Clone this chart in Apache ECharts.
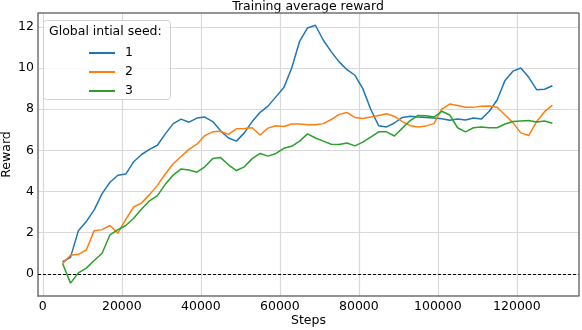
<!DOCTYPE html>
<html>
<head>
<meta charset="utf-8">
<script src="https://cdn.jsdelivr.net/npm/echarts@6/dist/echarts.min.js"></script>
<style>
  html, body { margin: 0; padding: 0; background: #fff; }
  #chart { width: 582px; height: 330px; }
</style>
</head>
<body>
<div id="chart"></div>
<script>
  // training steps (x) and average reward per seed
  var steps = [5000, 7000, 9000, 11000, 13000, 15000, 17000, 19000, 21000, 23000,
    25000, 27000, 29000, 31000, 33000, 35000, 37000, 39000, 41000, 43000,
    45000, 47000, 49000, 51000, 53000, 55000, 57000, 59000, 61000, 63000,
    65000, 67000, 69000, 71000, 73000, 75000, 77000, 79000, 81000, 83000,
    85000, 87000, 89000, 91000, 93000, 95000, 97000, 99000, 101000, 103000,
    105000, 107000, 109000, 111000, 113000, 115000, 117000, 119000, 121000, 123000,
    125000, 127000, 129000]

  var seed1 = [0.59, 0.8, 2.1, 2.54, 3.11, 3.9, 4.45, 4.79, 4.85, 5.45,
    5.8, 6.05, 6.25, 6.8, 7.3, 7.52, 7.37, 7.57, 7.62, 7.4,
    6.95, 6.6, 6.45, 6.85, 7.4, 7.85, 8.15, 8.6, 9.05, 10.0,
    11.3, 11.95, 12.08, 11.35, 10.8, 10.3, 9.92, 9.65, 9.0, 8.0,
    7.2, 7.14, 7.33, 7.6, 7.66, 7.62, 7.6, 7.57, 7.54, 7.46,
    7.52, 7.48, 7.57, 7.52, 7.9, 8.45, 9.4, 9.85, 10.0, 9.55,
    8.95, 8.97, 9.14]

  var seed2 = [0.5, 0.9, 0.95, 1.16, 2.1, 2.15, 2.35, 1.98, 2.65, 3.25,
    3.45, 3.85, 4.3, 4.85, 5.35, 5.7, 6.05, 6.3, 6.72, 6.9,
    6.93, 6.78, 7.05, 7.06, 7.1, 6.75, 7.08, 7.2, 7.16, 7.28,
    7.28, 7.25, 7.25, 7.3, 7.5, 7.75, 7.84, 7.6, 7.55, 7.62,
    7.7, 7.78, 7.65, 7.4, 7.2, 7.14, 7.19, 7.3, 8.0, 8.25,
    8.18, 8.1, 8.09, 8.15, 8.16, 8.1, 7.72, 7.35, 6.85, 6.72,
    7.4, 7.88, 8.2]

  var seed3 = [0.5, -0.45, 0.05, 0.28, 0.65, 1.0, 1.9, 2.15, 2.35, 2.7,
    3.15, 3.55, 3.8, 4.35, 4.8, 5.1, 5.05, 4.94, 5.2, 5.6,
    5.65, 5.3, 5.02, 5.2, 5.6, 5.85, 5.72, 5.85, 6.1, 6.2,
    6.45, 6.8, 6.6, 6.45, 6.3, 6.29, 6.36, 6.22, 6.4, 6.65,
    6.9, 6.9, 6.7, 7.08, 7.45, 7.7, 7.68, 7.62, 7.9, 7.72,
    7.1, 6.9, 7.1, 7.14, 7.1, 7.1, 7.28, 7.4, 7.43, 7.45,
    7.38, 7.43, 7.32]

  var seedNames = ['1', '2', '3']
  var xTicks = [0, 20000, 40000, 60000, 80000, 100000, 120000]
  var yTicks = [0, 2, 4, 6, 8, 10, 12]

  function pairs(vals) {
    return steps.map(function (s, i) { return [s, vals[i]] })
  }

  var font = 'DejaVu Sans'
  var frame = '#707070'
  var chart = echarts.init(document.getElementById('chart'))

  var option = {
    animation: false,
    color: ['#1f77b4', '#ff7f0e', '#2ca02c'],
    title: {
      text: 'Training average reward',
      left: 308, top: 0, padding: 0,
      textAlign: 'center',
      textStyle: { fontFamily: font, fontSize: 12.5, fontWeight: 'normal', color: '#000' }
    },
    grid: { left: 38, right: 3, top: 13, bottom: 34, outerBoundsMode: 'none' },
    legend: {
      z: 60,
      orient: 'vertical',
      left: 84, top: 41,
      itemWidth: 26, itemHeight: 2,
      itemGap: 5,
      icon: 'rect',
      data: seedNames,
      textStyle: { fontFamily: font, fontSize: 12.5, color: '#000', lineHeight: 14, padding: [0, 0, 0, 5] }
    },
    graphic: [
      {
        type: 'rect', z: 50,
        shape: { x: 43.5, y: 20.5, width: 127, height: 79, r: 3 },
        style: { fill: 'rgba(255,255,255,0.85)', stroke: '#d0d0d0', lineWidth: 1 }
      },
      {
        type: 'text', z: 51,
        left: 49, top: 25,
        style: { text: 'Global intial seed:', font: '12.5px "DejaVu Sans"', fill: '#000' }
      },
      // top and right sides of the plot box
      { type: 'line', z: 40, shape: { x1: 38, y1: 13, x2: 579, y2: 13 }, style: { stroke: frame, lineWidth: 1.5 } },
      { type: 'line', z: 40, shape: { x1: 579, y1: 13, x2: 579, y2: 296 }, style: { stroke: frame, lineWidth: 1.5 } }
    ],
    xAxis: {
      type: 'value',
      min: -1225, max: 135725,
      name: 'Steps', nameLocation: 'middle', nameGap: 18, nameMoveOverlap: false,
      nameTextStyle: { fontFamily: font, fontSize: 12.5, color: '#000' },
      axisLine: { show: true, onZero: false, lineStyle: { color: frame, width: 1.5 } },
      axisTick: { show: false, customValues: xTicks },
      axisLabel: {
        customValues: xTicks, margin: 4, fontFamily: font, fontSize: 12.5, color: '#000',
        formatter: function (v) { return String(v) }
      },
      splitLine: { show: true, customValues: xTicks, lineStyle: { color: '#d9d9d9', width: 1.2 } }
    },
    yAxis: {
      type: 'value',
      min: -1.075, max: 12.675,
      name: 'Reward', nameLocation: 'middle', nameGap: 25, nameMoveOverlap: false,
      nameTextStyle: { fontFamily: font, fontSize: 12.5, color: '#000' },
      axisLine: { show: true, onZero: false, lineStyle: { color: frame, width: 1.5 } },
      axisTick: { show: false, customValues: yTicks },
      axisLabel: { customValues: yTicks, margin: 4, fontFamily: font, fontSize: 12.5, color: '#000' },
      splitLine: { show: true, customValues: yTicks, lineStyle: { color: '#d9d9d9', width: 1.2 } }
    },
    series: seedNames.map(function (n, k) {
      var s = {
        name: n,
        type: 'line',
        data: pairs([seed1, seed2, seed3][k]),
        showSymbol: false,
        symbol: 'none',
        lineStyle: { width: 1.5 }
      }
      if (k === 0) {
        s.markLine = {
          silent: true, symbol: 'none', label: { show: false },
          lineStyle: { color: '#000', type: [3, 2], width: 1 },
          data: [{ yAxis: 0 }]
        }
      }
      return s
    })
  }

  chart.setOption(option)
</script>
</body>
</html>
